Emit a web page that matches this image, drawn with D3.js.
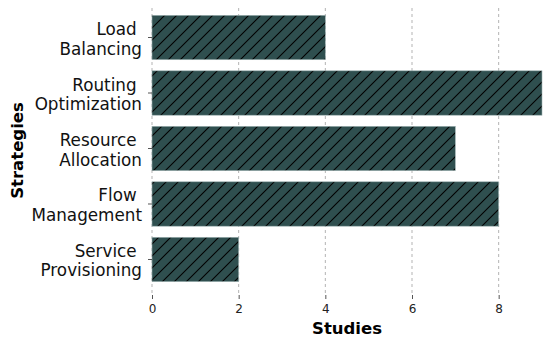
<!DOCTYPE html>
<html>
<head>
<meta charset="utf-8">
<script src="https://cdn.jsdelivr.net/npm/d3@7"></script>
<style>
  body { margin: 0; background: #fff; }
  svg { display: block; font-family: "DejaVu Sans", sans-serif; }
</style>
</head>
<body>
<div id="chart"></div>
<script>
// Data
const strategies = [
  ["Load ", "Balancing"],
  ["Routing ", "Optimization"],
  ["Resource ", "Allocation"],
  ["Flow ", "Management"],
  ["Service ", "Provisioning"]
];
const studies = [4, 9, 7, 8, 2];
const xTicks = [0, 2, 4, 6, 8];

const width = 550, height = 342;
const margin = { top: 2, right: 8, bottom: 47, left: 152 };

const svg = d3.select("#chart").append("svg")
  .attr("width", width)
  .attr("height", height);

// hatch pattern, "//" style
const hs = 12;
const defs = svg.append("defs");
const pat = defs.append("pattern")
  .attr("id", "hatch")
  .attr("patternUnits", "userSpaceOnUse")
  .attr("width", hs)
  .attr("height", hs);
pat.append("rect").attr("width", hs).attr("height", hs).attr("fill", "#2f4f4f");
pat.append("path")
  .attr("d", `M0,${hs} L${hs},0 M-2,2 L2,-2 M${hs - 2},${hs + 2} L${hs + 2},${hs - 2}`)
  .attr("stroke", "#000")
  .attr("stroke-width", 1.1);

const x = d3.scaleLinear()
  .domain([0, 9])
  .range([margin.left, width - margin.right]);

const y = d3.scaleBand()
  .domain(strategies.map((d, i) => i))
  .range([margin.top, height - margin.bottom])
  .paddingInner(0.2)
  .paddingOuter(0.24);

// grid
svg.append("g")
  .selectAll("line")
  .data(xTicks)
  .join("line")
  .attr("x1", (d) => x(d))
  .attr("x2", (d) => x(d))
  .attr("y1", margin.top + 6)
  .attr("y2", height - margin.bottom)
  .attr("stroke", "#aaaaaa")
  .attr("stroke-width", 0.9)
  .attr("stroke-dasharray", "3,3");

// bars
svg.append("g")
  .selectAll("rect")
  .data(studies)
  .join("rect")
  .attr("x", x(0))
  .attr("y", (d, i) => y(i))
  .attr("width", (d) => x(d) - x(0))
  .attr("height", y.bandwidth())
  .attr("fill", "url(#hatch)")
  .attr("stroke", "#9fb3b3")
  .attr("stroke-width", 0.6);

// x axis
const xAxis = svg.append("g")
  .attr("transform", `translate(0,${height - margin.bottom})`)
  .call(d3.axisBottom(x).tickValues(xTicks).tickSize(4).tickPadding(5));
xAxis.select(".domain").remove();
xAxis.selectAll(".tick line").attr("stroke", "#555");
xAxis.selectAll(".tick text")
  .attr("font-size", 12)
  .attr("fill", "#222")
  .attr("font-family", "DejaVu Sans");

// y axis
const yAxis = svg.append("g")
  .attr("transform", `translate(${margin.left},0)`)
  .call(d3.axisLeft(y).tickSize(4).tickPadding(4).tickFormat(""));
yAxis.select(".domain").remove();
yAxis.selectAll(".tick line").attr("stroke", "#555");

svg.append("g")
  .selectAll("text")
  .data(strategies)
  .join("text")
  .attr("text-anchor", "end")
  .attr("font-size", 16.8)
  .attr("fill", "#111")
  .attr("xml:space", "preserve")
  .attr("transform", (d, i) => `translate(${margin.left - 10},${y(i) + y.bandwidth() / 2})`)
  .selectAll("tspan")
  .data((d) => d)
  .join("tspan")
  .attr("x", 0)
  .attr("y", (d, j) => (j === 0 ? -2.5 : 17))
  .text((d) => d);

// axis titles
svg.append("text")
  .attr("x", (x(0) + x(9)) / 2)
  .attr("y", 334)
  .attr("text-anchor", "middle")
  .attr("font-size", 16.5)
  .attr("font-weight", "bold")
  .attr("fill", "#000")
  .text("Studies");

svg.append("text")
  .attr("transform", `translate(23,${(margin.top + height - margin.bottom) / 2 + 2}) rotate(-90)`)
  .attr("text-anchor", "middle")
  .attr("font-size", 16.5)
  .attr("font-weight", "bold")
  .attr("fill", "#000")
  .text("Strategies");
</script>
</body>
</html>
